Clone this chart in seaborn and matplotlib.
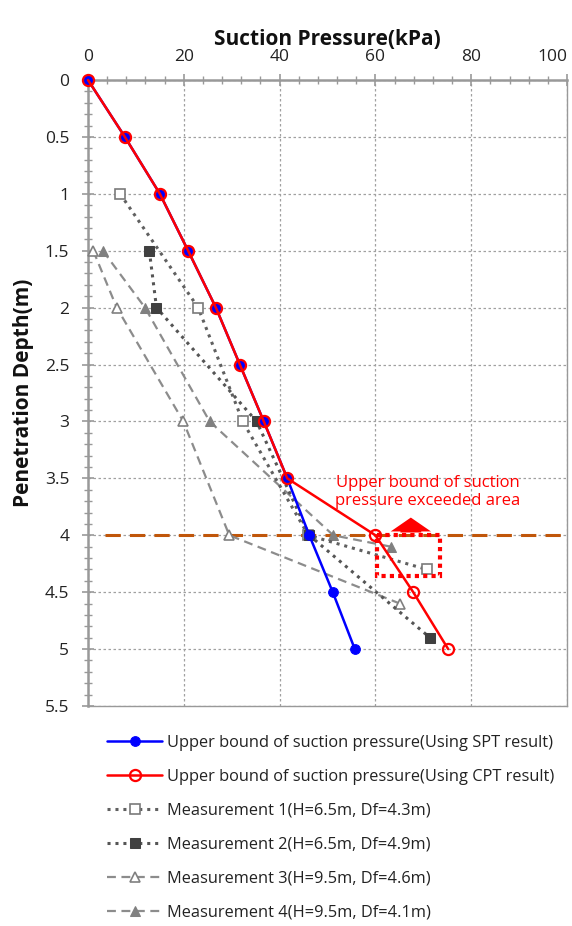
import matplotlib
matplotlib.use("Agg")
import matplotlib.pyplot as plt
import matplotlib.patches as mpatches
import seaborn as sns
import pandas as pd
import numpy as np

# ---- data ----
spt_depth = [0, 0.5, 1, 1.5, 2, 2.5, 3, 3.5, 4, 4.5, 5]
spt_press = [0, 7.7, 15.0, 20.9, 26.7, 31.7, 36.7, 41.6, 46.2, 51.1, 55.7]
cpt_depth = [0, 0.5, 1, 1.5, 2, 2.5, 3, 3.5, 4, 4.5, 5]
cpt_press = [0, 7.7, 15.0, 20.9, 26.7, 31.7, 36.7, 41.6, 60.0, 67.9, 75.2]
m1_depth = [1, 2, 3, 4, 4.3]
m1_press = [6.7, 23.0, 32.3, 46.0, 70.7]
m2_depth = [1.5, 2, 3, 4, 4.9]
m2_press = [12.8, 14.3, 35.2, 46.2, 71.4]
m3_depth = [1.5, 2, 3, 4, 4.6]
m3_press = [1.1, 6.0, 19.9, 29.5, 65.1]
m4_depth = [1.5, 2, 3, 4, 4.1]
m4_press = [3.1, 11.9, 25.4, 51.2, 63.2]

labels = [
    "Upper bound of suction pressure(Using SPT result)",
    "Upper bound of suction pressure(Using CPT result)",
    "Measurement 1(H=6.5m, Df=4.3m)",
    "Measurement 2(H=6.5m, Df=4.9m)",
    "Measurement 3(H=9.5m, Df=4.6m)",
    "Measurement 4(H=9.5m, Df=4.1m)",
]
x_ticks = [0, 20, 40, 60, 80, 100]
x_ticklabels = ["0", "20", "40", "60", "80", "100"]
y_ticks = [0, 0.5, 1, 1.5, 2, 2.5, 3, 3.5, 4, 4.5, 5, 5.5]
y_ticklabels = ["0", "0.5", "1", "1.5", "2", "2.5", "3", "3.5", "4", "4.5", "5", "5.5"]
limit_depth = 4.0
box_press = (60.3, 73.5)
box_depth = (4.0, 4.36)
annot_text = "Upper bound of suction\npressure exceeded area"

sns.set_style("white")
plt.rcParams["font.family"] = ["Open Sans", "DejaVu Sans"]

fig = plt.figure(figsize=(5.72, 9.26), dpi=100)
ax = fig.add_axes([88/572, 1-706/926, (567-88)/572, (706-80)/926])

series = [
    (m3_press, m3_depth, dict(color="#8c8c8c", linestyle=(0, (4, 2.5)), lw=1.6, marker="^",
                              markersize=7, markerfacecolor="white", markeredgecolor="#808080", markeredgewidth=1.2)),
    (m4_press, m4_depth, dict(color="#8c8c8c", linestyle=(0, (4, 2.5)), lw=1.6, marker="^",
                              markersize=7, markerfacecolor="#808080", markeredgecolor="#808080")),
    (m1_press, m1_depth, dict(color="#606060", linestyle=(0, (1, 1.6)), lw=2.2, marker="s",
                              markersize=6.5, markerfacecolor="white", markeredgecolor="#7a7a7a", markeredgewidth=1.2)),
    (m2_press, m2_depth, dict(color="#555555", linestyle=(0, (1, 1.6)), lw=2.2, marker="s",
                              markersize=6.5, markerfacecolor="#404040", markeredgecolor="#404040")),
    (spt_press, spt_depth, dict(color="#0000ff", lw=1.8, marker="o", markersize=7,
                                markerfacecolor="#0000ff", markeredgecolor="#0000ff")),
    (cpt_press, cpt_depth, dict(color="#ff0000", lw=1.8, marker="o", markersize=8,
                                markerfacecolor="none", markeredgecolor="#ff0000", markeredgewidth=1.6)),
]
label_idx = [4, 5, 2, 3, 0, 1]
for (px, dy, kw), li in zip(series, label_idx):
    df = pd.DataFrame({"p": px, "d": dy})
    sns.lineplot(data=df, x="p", y="d", sort=False, estimator=None, ax=ax,
                 label=labels[li], clip_on=False, zorder=3, **kw)

ax.axhline(limit_depth, xmin=0.035, xmax=1.0, color="#c0560a", lw=2.2, linestyle=(0, (5, 3)), zorder=2.5)

ax.set_xlim(0, 100)
ax.set_ylim(5.5, 0)
ax.xaxis.tick_top()
ax.xaxis.set_label_position("top")
ax.set_xticks(x_ticks)
ax.set_xticklabels(x_ticklabels)
ax.set_yticks(y_ticks)
ax.set_yticklabels(y_ticklabels)
ax.set_xticks(np.arange(0, 101, 4), minor=True)
ax.set_yticks(np.arange(0, 5.51, 0.1), minor=True)
ax.tick_params(axis="both", which="major", direction="inout", length=9, width=1.2,
               color="#999999", labelsize=12.5, labelcolor="#222222")
ax.tick_params(axis="both", which="minor", direction="inout", length=6, width=1,
               color="#999999")
ax.tick_params(axis="x", which="both", top=True, bottom=False, pad=6)
ax.tick_params(axis="y", which="both", left=True, right=False, pad=9)
ax.get_xticklabels()[-1].set_horizontalalignment("right")
ax.grid(True, which="major", color="#a0a0a0", linestyle=(0, (2, 2)), lw=0.9)
for name, sp in ax.spines.items():
    sp.set_color("#999999")
    sp.set_linewidth(1.0)
ax.spines["top"].set_linewidth(1.8)
ax.spines["left"].set_linewidth(1.8)

ax.set_xlabel("Suction Pressure(kPa)", fontsize=15, fontweight="bold", labelpad=3, color="#111111")
ax.set_ylabel("Penetration Depth(m)", fontsize=15, fontweight="bold", labelpad=8, color="#111111")

# annotation
rect = mpatches.Rectangle((box_press[0], box_depth[0]), box_press[1]-box_press[0],
                          box_depth[1]-box_depth[0], fill=False, edgecolor="#ff0000",
                          lw=3, linestyle=(0, (1, 1)), zorder=4)
ax.add_patch(rect)
ax.annotate("", xy=(67.4, 3.82), xytext=(67.4, 4.0),
            arrowprops=dict(arrowstyle="simple,head_width=2.9,head_length=1.0,tail_width=1.5",
                            color="#ff0000", lw=0), zorder=4)
ax.text(71, 3.62, annot_text, color="#ff0000", fontsize=12, ha="center", va="center",
        linespacing=1.15, family=["Open Sans", "DejaVu Sans"])

# legend
handles, labs = ax.get_legend_handles_labels()
order = [labs.index(l) for l in labels]
leg = ax.legend([handles[i] for i in order], [labs[i] for i in order],
                loc="upper left", bbox_to_anchor=(92/572, 1-720/926),
                bbox_transform=fig.transFigure, frameon=False, fontsize=11.8,
                handlelength=3.4, handletextpad=0.3, labelspacing=1.1)
for t in leg.get_texts():
    t.set_color("#222222")

fig.savefig("out.png", dpi=100)
